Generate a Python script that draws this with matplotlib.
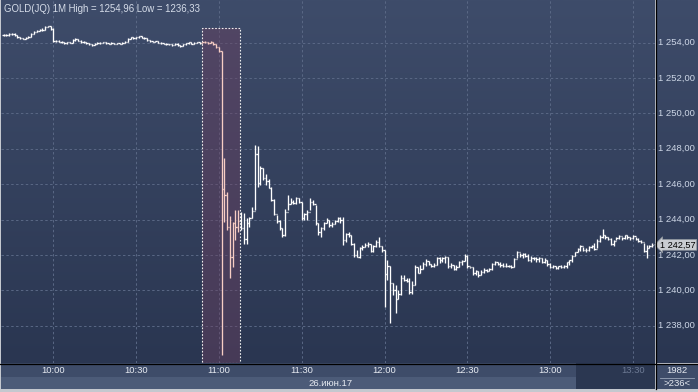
import numpy as np
import pandas as pd
import matplotlib
matplotlib.use("Agg")
import matplotlib.pyplot as plt
from matplotlib.collections import LineCollection
from matplotlib.colors import LinearSegmentedColormap
from matplotlib.patches import Rectangle
from matplotlib.lines import Line2D

plt.rcParams['font.family'] = ['Liberation Sans', 'DejaVu Sans']

# ---- data ----
title_text = "GOLD(JQ) 1M High = 1254,96 Low = 1236,33"
session_start = "2017-06-26 09:42"
date_label = "26.июн.17"
time_ticks = ["10:00", "10:30", "11:00", "11:30", "12:00", "12:30", "13:00", "13:30"]
price_ticks = [1238, 1240, 1242, 1244, 1246, 1248, 1250, 1252, 1254]
last_price = 1242.57
bar_count_label = "1982"
visible_bars_label = ">236<"
highlight_start = "10:54"
highlight_end = "11:07"
highlight_top = 1254.81

closes = [
    1254.45, 1254.42, 1254.48, 1254.50, 1254.45, 1254.30, 1254.25, 1254.22, 1254.26, 1254.34,
    1254.50, 1254.62, 1254.68, 1254.70, 1254.74, 1254.90, 1254.93, 1254.78, 1254.08, 1254.12,
    1254.05, 1254.03, 1253.98, 1254.02, 1254.00, 1254.15, 1254.20, 1254.12, 1254.05, 1254.02,
    1253.96, 1253.92, 1253.85, 1253.93, 1254.00, 1253.98, 1254.02, 1253.96, 1253.95, 1253.98,
    1253.93, 1253.96, 1253.95, 1254.00, 1254.05, 1254.22, 1254.30, 1254.25, 1254.30, 1254.35,
    1254.28, 1254.26, 1254.15, 1254.10, 1254.05, 1254.08, 1254.00, 1253.98, 1253.95, 1253.92,
    1253.90, 1253.88, 1253.94, 1253.85, 1253.82, 1253.90, 1253.96, 1254.02, 1253.95, 1253.98,
    1254.02, 1253.98, 1254.02, 1254.05, 1253.98, 1254.05, 1253.90, 1253.75, 1253.50, 1245.70,
    1245.40, 1243.56, 1241.90, 1243.80, 1243.60, 1243.90, 1243.50, 1242.90, 1243.80, 1244.10,
    1244.50, 1247.70, 1246.05, 1246.90, 1246.35, 1246.20, 1245.80, 1245.10, 1244.30, 1243.90,
    1243.50, 1243.15, 1244.40, 1244.90, 1245.00, 1244.95, 1245.20, 1245.00, 1244.10, 1244.30,
    1244.40, 1245.00, 1244.90, 1243.80, 1243.30, 1243.50, 1243.80, 1243.95, 1243.70, 1243.75,
    1243.90, 1244.10, 1243.95, 1242.85, 1243.20, 1243.10, 1242.60, 1242.00, 1241.90, 1242.40,
    1242.45, 1242.55, 1242.60, 1242.20, 1242.50, 1242.75, 1242.50, 1242.30, 1240.90, 1241.40,
    1240.40, 1240.00, 1239.50, 1239.80, 1240.70, 1240.60, 1240.55, 1239.90, 1240.30, 1241.30,
    1241.00, 1241.20, 1241.50, 1241.65, 1241.50, 1241.35, 1241.45, 1241.85, 1241.70, 1241.80,
    1241.90, 1241.35, 1241.45, 1241.20, 1241.30, 1241.60, 1241.65, 1241.95, 1241.35, 1241.30,
    1241.00, 1241.10, 1240.85, 1241.05, 1241.15, 1241.10, 1241.20, 1241.50, 1241.60, 1241.50,
    1241.45, 1241.40, 1241.35, 1241.40, 1241.30, 1241.75, 1242.15, 1242.00, 1242.05, 1241.95,
    1241.70, 1241.85, 1241.80, 1241.75, 1241.85, 1241.60, 1241.70, 1241.50, 1241.30, 1241.35,
    1241.25, 1241.35, 1241.30, 1241.40, 1241.60, 1241.70, 1241.95, 1242.15, 1242.35, 1242.50,
    1242.30, 1242.30, 1242.45, 1242.50, 1242.35, 1242.80, 1243.00, 1243.10, 1243.00, 1242.90,
    1242.60, 1242.80, 1242.95, 1243.05, 1242.95, 1243.10, 1243.00, 1242.95, 1243.05, 1242.90,
    1242.80, 1242.75, 1242.20, 1242.40, 1242.50, 1242.57,
]

highs = [
    1254.50, 1254.48, 1254.52, 1254.55, 1254.52, 1254.45, 1254.33, 1254.28, 1254.30, 1254.38,
    1254.55, 1254.66, 1254.72, 1254.75, 1254.80, 1254.96, 1254.96, 1254.95, 1254.80, 1254.16,
    1254.14, 1254.08, 1254.05, 1254.06, 1254.05, 1254.20, 1254.25, 1254.22, 1254.14, 1254.08,
    1254.04, 1253.98, 1253.94, 1253.97, 1254.05, 1254.04, 1254.06, 1254.04, 1254.00, 1254.02,
    1254.00, 1254.00, 1254.00, 1254.04, 1254.08, 1254.28, 1254.34, 1254.32, 1254.34, 1254.40,
    1254.36, 1254.30, 1254.27, 1254.17, 1254.12, 1254.12, 1254.09, 1254.03, 1254.00, 1253.97,
    1253.95, 1253.93, 1253.98, 1253.96, 1253.88, 1253.94, 1254.00, 1254.06, 1254.04, 1254.02,
    1254.06, 1254.04, 1254.06, 1254.08, 1254.06, 1254.08, 1254.06, 1253.92, 1253.78, 1253.50,
    1247.46, 1245.58, 1244.20, 1243.88, 1244.54, 1244.54, 1244.40, 1244.35, 1244.07, 1244.17,
    1244.73, 1248.22, 1248.16, 1247.03, 1246.90, 1246.60, 1246.27, 1245.82, 1245.16, 1244.26,
    1243.98, 1243.50, 1244.60, 1245.39, 1245.20, 1245.10, 1245.30, 1245.20, 1245.00, 1244.35,
    1244.54, 1245.20, 1245.10, 1244.83, 1243.79, 1243.60, 1243.88, 1244.07, 1243.98, 1243.88,
    1243.98, 1244.17, 1244.13, 1244.17, 1243.22, 1243.32, 1243.13, 1242.66, 1242.28, 1242.47,
    1242.56, 1242.66, 1242.75, 1242.62, 1242.56, 1242.85, 1243.00, 1242.50, 1242.30, 1241.72,
    1241.40, 1240.40, 1240.30, 1240.02, 1240.87, 1240.87, 1240.68, 1240.70, 1240.50, 1241.43,
    1241.34, 1241.43, 1241.62, 1241.75, 1241.68, 1241.50, 1241.53, 1241.90, 1241.87, 1241.87,
    1241.92, 1241.90, 1241.53, 1241.43, 1241.43, 1241.65, 1241.72, 1242.05, 1242.00, 1241.34,
    1241.30, 1241.15, 1241.10, 1241.15, 1241.24, 1241.19, 1241.24, 1241.53, 1241.66, 1241.62,
    1241.62, 1241.53, 1241.53, 1241.45, 1241.43, 1241.81, 1242.22, 1242.09, 1242.09, 1242.09,
    1242.04, 1241.96, 1241.90, 1241.90, 1241.90, 1241.81, 1241.81, 1241.72, 1241.53, 1241.43,
    1241.40, 1241.40, 1241.43, 1241.43, 1241.62, 1241.72, 1242.00, 1242.19, 1242.41, 1242.56,
    1242.47, 1242.38, 1242.53, 1242.56, 1242.66, 1242.90, 1243.13, 1243.47, 1243.13, 1243.00,
    1242.94, 1242.85, 1243.03, 1243.13, 1243.03, 1243.13, 1243.10, 1243.03, 1243.10, 1243.03,
    1242.94, 1242.85, 1242.66, 1242.56, 1242.56, 1242.66,
]

lows = [
    1254.40, 1254.38, 1254.40, 1254.45, 1254.40, 1254.27, 1254.22, 1254.18, 1254.20, 1254.24,
    1254.32, 1254.48, 1254.60, 1254.65, 1254.68, 1254.72, 1254.86, 1254.70, 1254.02, 1254.04,
    1254.02, 1253.98, 1253.94, 1253.95, 1253.96, 1253.98, 1254.12, 1254.08, 1254.00, 1253.98,
    1253.92, 1253.88, 1253.80, 1253.84, 1253.90, 1253.94, 1253.96, 1253.92, 1253.90, 1253.92,
    1253.90, 1253.90, 1253.92, 1253.93, 1253.98, 1254.03, 1254.20, 1254.20, 1254.22, 1254.28,
    1254.25, 1254.22, 1254.12, 1254.06, 1254.02, 1254.02, 1253.96, 1253.94, 1253.90, 1253.88,
    1253.86, 1253.83, 1253.86, 1253.80, 1253.78, 1253.80, 1253.88, 1253.94, 1253.92, 1253.92,
    1253.96, 1253.94, 1253.96, 1254.00, 1253.94, 1253.96, 1253.86, 1253.70, 1253.45, 1236.33,
    1243.88, 1243.41, 1240.68, 1241.30, 1242.85, 1243.32, 1243.40, 1242.60, 1242.60, 1243.60,
    1244.07, 1244.54, 1245.82, 1245.96, 1246.24, 1245.96, 1245.77, 1245.07, 1244.26, 1243.79,
    1243.41, 1243.00, 1243.07, 1244.54, 1244.88, 1244.88, 1244.88, 1244.92, 1243.98, 1243.98,
    1243.98, 1244.54, 1244.83, 1243.70, 1243.13, 1243.03, 1243.41, 1243.79, 1243.60, 1243.60,
    1243.72, 1243.88, 1243.83, 1242.56, 1242.75, 1243.04, 1242.56, 1241.90, 1241.87, 1241.81,
    1242.28, 1242.47, 1242.47, 1242.19, 1242.19, 1242.47, 1242.47, 1242.19, 1239.04, 1240.59,
    1238.17, 1239.74, 1238.70, 1239.50, 1239.74, 1240.55, 1240.49, 1239.79, 1239.80, 1240.30,
    1240.96, 1241.00, 1241.20, 1241.38, 1241.43, 1241.30, 1241.30, 1241.45, 1241.56, 1241.60,
    1241.53, 1241.24, 1241.24, 1241.15, 1241.15, 1241.30, 1241.43, 1241.65, 1241.24, 1241.24,
    1240.87, 1240.87, 1240.77, 1240.85, 1241.00, 1241.06, 1241.10, 1241.15, 1241.43, 1241.43,
    1241.34, 1241.34, 1241.30, 1241.30, 1241.25, 1241.34, 1241.85, 1241.90, 1241.81, 1241.90,
    1241.66, 1241.62, 1241.72, 1241.62, 1241.62, 1241.53, 1241.53, 1241.40, 1241.25, 1241.25,
    1241.20, 1241.20, 1241.25, 1241.25, 1241.25, 1241.43, 1241.62, 1241.95, 1242.15, 1242.22,
    1242.22, 1242.19, 1242.22, 1242.38, 1242.28, 1242.38, 1242.75, 1242.94, 1242.90, 1242.85,
    1242.56, 1242.53, 1242.85, 1242.90, 1242.85, 1242.90, 1242.90, 1242.85, 1242.90, 1242.85,
    1242.75, 1242.66, 1242.19, 1241.85, 1242.38, 1242.47,
]

# ---- layout helpers (pixel boxes on a 698x392 canvas) ----
W, H = 698, 392


def box(x0, y0, x1, y1):
    return [x0 / W, 1 - y1 / H, (x1 - x0) / W, (y1 - y0) / H]


def fmt_price(v):
    return f"{v:,.2f}".replace(",", " ").replace(".", ",")


def bare(a):
    a.set_xticks([])
    a.set_yticks([])
    for s in a.spines.values():
        s.set_visible(False)


bg_cmap = LinearSegmentedColormap.from_list("bg", ["#2a3651", "#3e4c6a"])
grad = np.linspace(0, 1, 256).reshape(-1, 1)

n = len(closes)
opens = [closes[0]] + closes[:-1]
times = pd.date_range(session_start, periods=n, freq="min").strftime("%H:%M").tolist()
xs = np.arange(n)
tick_pos = [times.index(t) for t in time_ticks]
hl0 = times.index(highlight_start)
hl1 = times.index(highlight_end)

xlim = (-0.95, 236.0)
ylim = (1235.89, 1256.41)

fig = plt.figure(figsize=(W / 100, H / 100), dpi=100, facecolor="#c4c8cf")

# main price panel
ax = fig.add_axes(box(1, 0, 655, 363))
ax.imshow(grad, extent=[xlim[0], xlim[1], ylim[0], ylim[1]], origin="lower",
          aspect="auto", cmap=bg_cmap, zorder=0)
ax.set_xlim(xlim)
ax.set_ylim(ylim)
ax.axis("off")

grid_kw = dict(color="#5a6885", lw=0.7, linestyles=(0, (2.5, 2.5)), zorder=1)
ax.hlines(price_ticks, xlim[0], xlim[1], **grid_kw)
ax.vlines(tick_pos, ylim[0], ylim[1], **grid_kw)

# highlighted news window
ax.add_patch(Rectangle((hl0 - 0.25, ylim[0]), hl1 - hl0 + 1.0, highlight_top - ylim[0],
                       facecolor="#6a4060", alpha=0.45, edgecolor="none", zorder=2))
ax.add_patch(Rectangle((hl0 - 0.25, ylim[0] + 0.02), hl1 - hl0 + 1.0, highlight_top - ylim[0] - 0.02,
                       facecolor="none", edgecolor="#f0f0f0", lw=0.8,
                       linestyle=(0, (1.5, 1.5)), zorder=3))

# OHLC bars
segs, cols = [], []
for i in range(n):
    c = "#f7cdc4" if hl0 <= i <= hl1 else "#ffffff"
    segs.append([(xs[i], lows[i]), (xs[i], highs[i])])
    segs.append([(xs[i] - 0.45, opens[i]), (xs[i], opens[i])])
    segs.append([(xs[i], closes[i]), (xs[i] + 0.45, closes[i])])
    cols += [c, c, c]
ax.add_collection(LineCollection(segs, colors=cols, linewidths=0.95, zorder=4))

fig.text(4 / W, 1 - 8.5 / H, title_text, color="#d6dde9", fontsize=6.9,
         ha="left", va="center")

# right price scale
ax_r = fig.add_axes(box(656, 0, 698, 363))
ax_r.imshow(grad, extent=[0, 1, ylim[0], ylim[1]], origin="lower",
            aspect="auto", cmap=bg_cmap, zorder=0)
ax_r.set_xlim(0, 1)
ax_r.set_ylim(ylim)
ax_r.axis("off")
for p in price_ticks:
    ax_r.text(0.04, p, fmt_price(p), color="#cdd6e6", fontsize=6.8, ha="left", va="center")
ax_r.text(0.1, last_price, fmt_price(last_price), color="#000000", fontsize=6.6,
          ha="left", va="center", zorder=5,
          bbox=dict(boxstyle="larrow,pad=0.1", fc="#c9ccd1", ec="#8d939c", lw=0.5))

# time axis bands (last stretch shaded dark)
dark_from = (576 - 1) / 654
ax_t = fig.add_axes(box(1, 363, 655, 377), facecolor="#3e4c69")
ax_t.set_xlim(xlim)
ax_t.set_ylim(0, 1)
bare(ax_t)
ax_t.add_patch(Rectangle((dark_from, 0), 1 - dark_from, 1, transform=ax_t.transAxes,
                         facecolor="#2b3751", edgecolor="none", zorder=1))
ax_d = fig.add_axes(box(1, 377, 655, 389), facecolor="#4c5b78")
bare(ax_d)
ax_d.add_patch(Rectangle((dark_from, 0), 1 - dark_from, 1, transform=ax_d.transAxes,
                         facecolor="#2b3751", edgecolor="none", zorder=1))

for p, t in zip(tick_pos, time_ticks):
    col = "#6d7a94" if t == "13:30" else "#e6eaf1"
    ax_t.text(p, 0.45, t, color=col, fontsize=6.8, ha="center", va="center", zorder=5)
fig.text(331 / W, 1 - 383.5 / H, date_label, color="#e6eaf1", fontsize=6.8,
         ha="center", va="center")

# bottom-right counter box
ax_c = fig.add_axes(box(656, 364, 698, 389), facecolor="#3e4c69")
bare(ax_c)
ax_c.set_xlim(0, 1)
ax_c.set_ylim(0, 1)
ax_c.text(0.5, 0.74, bar_count_label, color="#e6eaf1", fontsize=6.8, ha="center", va="center")
ax_c.text(0.5, 0.22, visible_bars_label, color="#e6eaf1", fontsize=6.8, ha="center", va="center")
ax_c.plot([0.1, 0.9], [0.46, 0.46], color="#9aa5b8", lw=0.6)

# black frame lines
fig.lines.append(Line2D([655.5 / W] * 2, [1 - 389 / H, 1], transform=fig.transFigure,
                        color="#000000", lw=0.9, zorder=6))
fig.lines.append(Line2D([0, 1], [1 - 363.5 / H] * 2, transform=fig.transFigure,
                        color="#000000", lw=0.9, zorder=6))

fig.savefig("out.png", dpi=100, facecolor=fig.get_facecolor())
